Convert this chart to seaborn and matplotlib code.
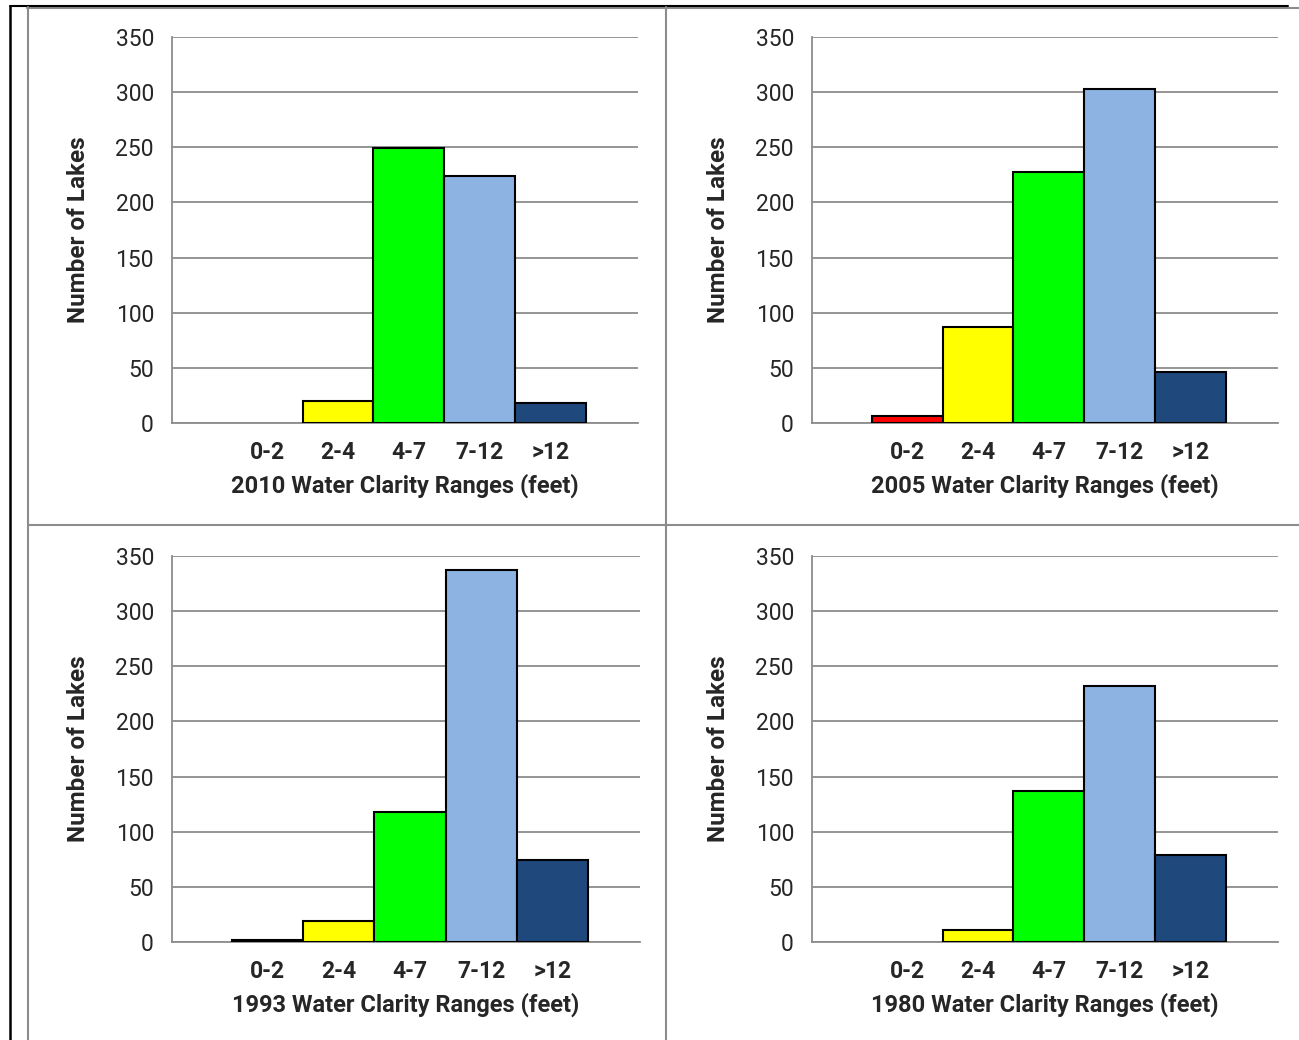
import matplotlib
matplotlib.use("Agg")
import matplotlib.pyplot as plt
from matplotlib.lines import Line2D
import seaborn as sns
import pandas as pd

ranges = ["0-2", "2-4", "4-7", "7-12", ">12"]
bar_colors = ["#ff0000", "#ffff00", "#00ff00", "#8db3e2", "#1f497d"]
years = ["2010", "2005", "1993", "1980"]
lakes_2010 = [0, 20, 249, 224, 18]
lakes_2005 = [6, 87, 228, 303, 46]
lakes_1993 = [2, 19, 118, 337, 74]
lakes_1980 = [0, 11, 137, 232, 79]
yticks = [0, 50, 100, 150, 200, 250, 300, 350]

sns.set_style("white")
plt.rcParams["font.family"] = ["Roboto", "DejaVu Sans"]

W, H = 1299, 1040
fig = plt.figure(figsize=(W / 100, H / 100), dpi=100)

# axes boxes in pixels: left, top of plot area (350), right, bottom (0)
boxes = [(172, 37, 638, 423), (812, 37, 1278, 423),
         (172, 556, 640, 942), (812, 556, 1278, 942)]
series = [lakes_2010, lakes_2005, lakes_1993, lakes_1980]
grid_c = "#8c8c8c"

for (l, t, r, b), yr, vals in zip(boxes, years, series):
    ax = fig.add_axes([l / W, 1 - b / H, (r - l) / W, (b - t) / H])
    df = pd.DataFrame({"range": ranges, "n": vals})
    sns.barplot(data=df, x="range", y="n", hue="range", palette=bar_colors,
                saturation=1, legend=False, width=1.0, edgecolor="black",
                linewidth=1.5, ax=ax, zorder=3)
    # empty categories show no outline
    for p in ax.patches:
        if p.get_height() == 0:
            p.set_visible(False)
    ax.set_xlim(-1.34, 5.23)
    ax.set_ylim(0, 350)
    ax.set_yticks(yticks)
    ax.yaxis.grid(True, color=grid_c, lw=1.3, zorder=0)
    ax.set_axisbelow(True)
    for s in ["top", "right"]:
        ax.spines[s].set_visible(False)
    ax.spines["left"].set_color(grid_c)
    ax.spines["bottom"].set_color(grid_c)
    ax.spines["left"].set_linewidth(1.3)
    ax.spines["bottom"].set_linewidth(1.3)
    ax.tick_params(axis="y", length=6, width=1.3, color=grid_c, labelsize=16.5, pad=7)
    ax.tick_params(axis="x", length=0, labelsize=16.5, pad=13)
    for lb in ax.get_xticklabels():
        lb.set_fontweight("bold")
    ax.set_xlabel(f"{yr} Water Clarity Ranges (feet)", fontsize=17,
                  fontweight="bold", labelpad=7)
    ax.set_ylabel("Number of Lakes", fontsize=17.5, fontweight="bold", labelpad=18)

# table-like frame lines
def hline(y, x0, x1, c, lw):
    fig.add_artist(Line2D([x0 / W, x1 / W], [1 - y / H, 1 - y / H], color=c, lw=lw))

def vline(x, y0, y1, c, lw):
    fig.add_artist(Line2D([x / W, x / W], [1 - y0 / H, 1 - y1 / H], color=c, lw=lw))

hline(7.5, 27, 1299, "#8c8c8c", 1.5)
hline(6, 10, 1288, "black", 1.5)
vline(10, 6, 1040, "black", 1.8)
vline(28, 7, 1040, "#8c8c8c", 1.5)
vline(666, 7, 1040, "#8c8c8c", 1.5)
hline(525, 28, 1299, "#8c8c8c", 1.5)

fig.savefig("out.png", dpi=100)
